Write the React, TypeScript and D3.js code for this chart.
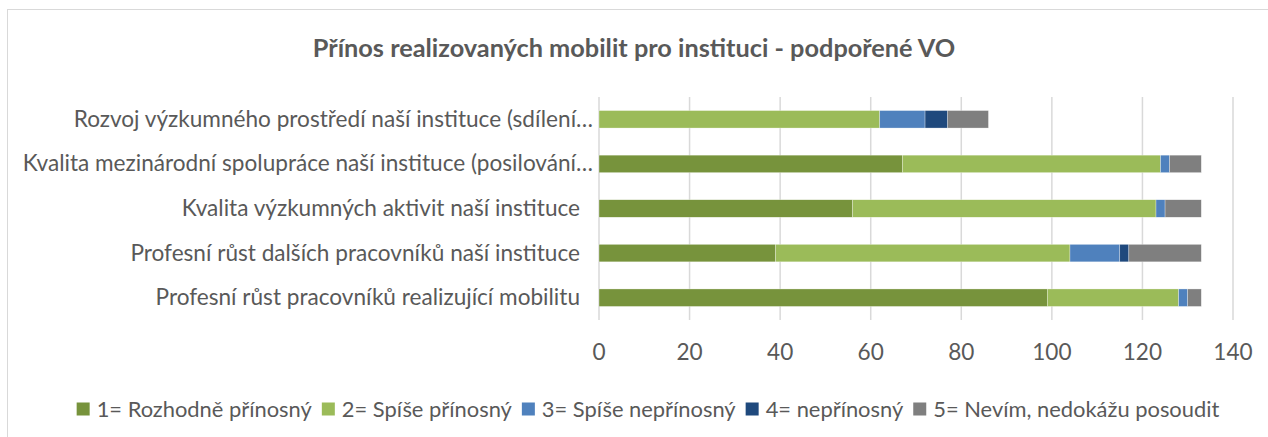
import React from 'react';
import * as d3 from 'd3';

const W = 1268;
const H = 437;

const categories = [
  'Rozvoj výzkumného prostředí naší instituce (sdílení…',
  'Kvalita mezinárodní spolupráce naší instituce (posilování…',
  'Kvalita výzkumných aktivit naší instituce',
  'Profesní růst dalších pracovníků naší instituce',
  'Profesní růst pracovníků realizující mobilitu',
];

const seriesNames = [
  '1= Rozhodně přínosný',
  '2= Spíše přínosný',
  '3= Spíše nepřínosný',
  '4= nepřínosný',
  '5= Nevím, nedokážu posoudit',
];
const seriesColors = ['#77933C', '#9BBB59', '#4F81BD', '#1F497D', '#7F7F7F'];

const rozhodne = [0, 67, 56, 39, 99];
const spisePrinosny = [62, 57, 67, 65, 29];
const spiseNeprinosny = [10, 2, 2, 11, 2];
const neprinosny = [5, 0, 0, 2, 0];
const nevim = [9, 7, 8, 16, 3];

const xTicks = [0, 20, 40, 60, 80, 100, 120, 140];

const FONT = 'Lato, "Open Sans", sans-serif';
const TEXT = '#595959';
const FS = 22.6;
const LEG_FS = 21.9;

const measure = (txt: string, size: number, weight = 'normal') => {
  const c = document.createElement('canvas').getContext('2d');
  if (!c) return txt.length * size * 0.5;
  c.font = `${weight} ${size}px Lato`;
  return c.measureText(txt).width;
};

const App = () => {
  const x = d3.scaleLinear().domain([0, 140]).range([599, 1233]);
  const y = d3.scaleBand<string>()
    .domain(categories)
    .range([97, 320])
    .paddingInner(0.608)
    .paddingOuter(0.304);

  const rows = categories.map((c, i) => ({
    cat: c,
    s0: rozhodne[i],
    s1: spisePrinosny[i],
    s2: spiseNeprinosny[i],
    s3: neprinosny[i],
    s4: nevim[i],
  }));
  const keys = ['s0', 's1', 's2', 's3', 's4'];
  const stacked = d3.stack<any>().keys(keys)(rows);

  // legend layout, centred under the chart
  const sq = 13;
  const items = seriesNames.map(n => ({ n, w: measure(n, LEG_FS) }));
  const total = d3.sum(items, d => sq + 7 + d.w) + 10 * (items.length - 1);
  let lx = 648 - total / 2;
  const legend = items.map((d, i) => {
    const pos = lx;
    lx += sq + 7 + d.w + 10;
    return { ...d, x: pos, color: seriesColors[i] };
  });

  return (
    <svg
      width={W}
      height={H}
      viewBox={`0 0 ${W} ${H}`}
      style={{ position: 'absolute', left: 0, top: 0, display: 'block', background: '#fff', overflow: 'hidden' }}
      fontFamily={FONT}
    >
      <rect x={7.5} y={9.5} width={1300} height={500} fill="#fff" stroke="#d9d9d9" strokeWidth={1} />

      <text x={634} y={57} textAnchor="middle" fontSize={25.3} fontWeight="bold" fill={TEXT}>
        Přínos realizovaných mobilit pro instituci - podpořené VO
      </text>

      {/* gridlines */}
      {xTicks.map(t => (
        <line key={'g' + t} x1={x(t)} x2={x(t)} y1={97} y2={320} stroke="#d9d9d9" strokeWidth={1.5} />
      ))}

      {/* bars */}
      {stacked.map((s, si) => (
        <g key={s.key} fill={seriesColors[si]}>
          {s.map((d, i) => (
            d[1] - d[0] > 0 ? (
              <rect
                key={i}
                x={x(d[0])}
                y={y(categories[i])}
                width={x(d[1]) - x(d[0])}
                height={y.bandwidth()}
                stroke="#fff"
                strokeWidth={0.5}
                strokeOpacity={0.6}
              />
            ) : null
          ))}
        </g>
      ))}

      {/* category labels */}
      {categories.map(c => (
        <text
          key={c}
          x={c.endsWith('…') ? 593 : 580}
          y={(y(c) || 0) + y.bandwidth() / 2 + 7.5}
          textAnchor="end"
          fontSize={FS}
          fill={TEXT}
        >
          {c}
        </text>
      ))}

      {/* x tick labels */}
      {xTicks.map(t => (
        <text key={'t' + t} x={x(t)} y={359.5} textAnchor="middle" fontSize={FS} fill={TEXT}>
          {t}
        </text>
      ))}

      {/* legend */}
      {legend.map(d => (
        <g key={d.n}>
          <rect x={d.x} y={409 - sq / 2} width={sq} height={sq} fill={d.color} />
          <text x={d.x + sq + 7} y={416.5} fontSize={LEG_FS} fill={TEXT}>{d.n}</text>
        </g>
      ))}
    </svg>
  );
};

export default App;
